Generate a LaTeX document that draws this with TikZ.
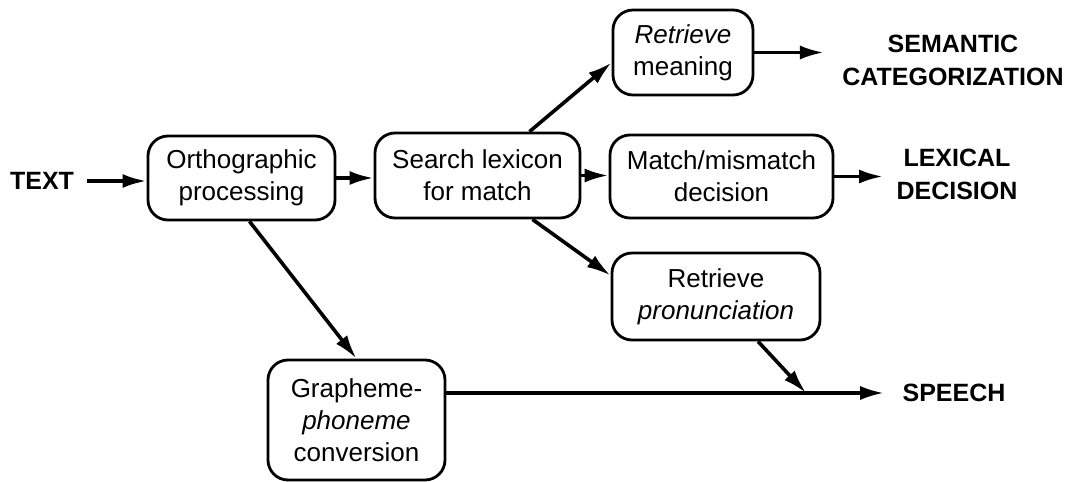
\documentclass[tikz,border=0pt]{standalone}
\usepackage{fontspec}
\setmainfont{Liberation Sans}
\usetikzlibrary{arrows.meta,calc}
\begin{document}
\begin{tikzpicture}[x=0.5pt,y=-0.5pt,
  proc/.style={draw,line width=1.4pt,rounded corners=10pt,align=center,
    font=\fontsize{13}{16}\selectfont,inner sep=0pt},
  outlbl/.style={align=center,inner sep=0pt,font=\fontsize{12.5}{16.5}\selectfont\bfseries},
  conn/.style={line width=1.8pt,-{Latex[length=12pt,width=7pt]}},
  plain/.style={line width=1.8pt}]
\useasboundingbox (0,0) rectangle (1077,482);
\node[outlbl] (text) at (42,181) {TEXT};
\node[proc,minimum width=93.5pt,minimum height=42pt] (ortho) at (241.5,178) {Orthographic\\processing};
\node[proc,minimum width=102.5pt,minimum height=42.5pt] (search) at (477.5,175.5) {Search lexicon\\for match};
\node[proc,minimum width=111.5pt,minimum height=41.5pt] (match) at (721.5,176.5) {Match/mismatch\\decision};
\node[proc,minimum width=70pt,minimum height=42.5pt] (meaning) at (683,52.5) {\itshape Retrieve\\meaning};
\node[proc,minimum width=104pt,minimum height=43.5pt] (pron) at (716,296.5) {Retrieve\\\itshape pronunciation};
\node[proc,minimum width=88.5pt,minimum height=60pt] (graph) at (356.5,420) {Grapheme-\\\itshape phoneme\\conversion};
\node[outlbl] (sem) at (953,60) {SEMANTIC\\CATEGORIZATION};
\node[outlbl] (lex) at (957,174) {LEXICAL\\DECISION};
\node[outlbl] (speech) at (954,393) {SPEECH};
\coordinate (join) at (806,393);
\draw[conn,shorten <=6.5pt] (text.east) -- (text.east -| ortho.west);
\draw[conn] (ortho.east) -- (ortho.east -| search.west);
\draw[conn] (search.east) -- (search.east -| match.west);
\draw[conn] ([xshift=26pt]search.north) -- ([yshift=-5pt]meaning.west);
\draw[conn] ([xshift=27.5pt]search.south) -- ([yshift=10.5pt]pron.west);
\draw[conn,shorten >=9pt] (meaning.east) -- (meaning.east -| sem.west);
\draw[conn,shorten >=6.5pt] (match.east) -- (match.east -| lex.west);
\draw[conn] ([xshift=4pt]ortho.south) -- (graph.north);
\draw[conn,shorten >=9pt] (graph.east |- speech.west) -- (speech.west);
\draw[conn] ([xshift=21pt]pron.south) -- (join);
\end{tikzpicture}
\end{document}
